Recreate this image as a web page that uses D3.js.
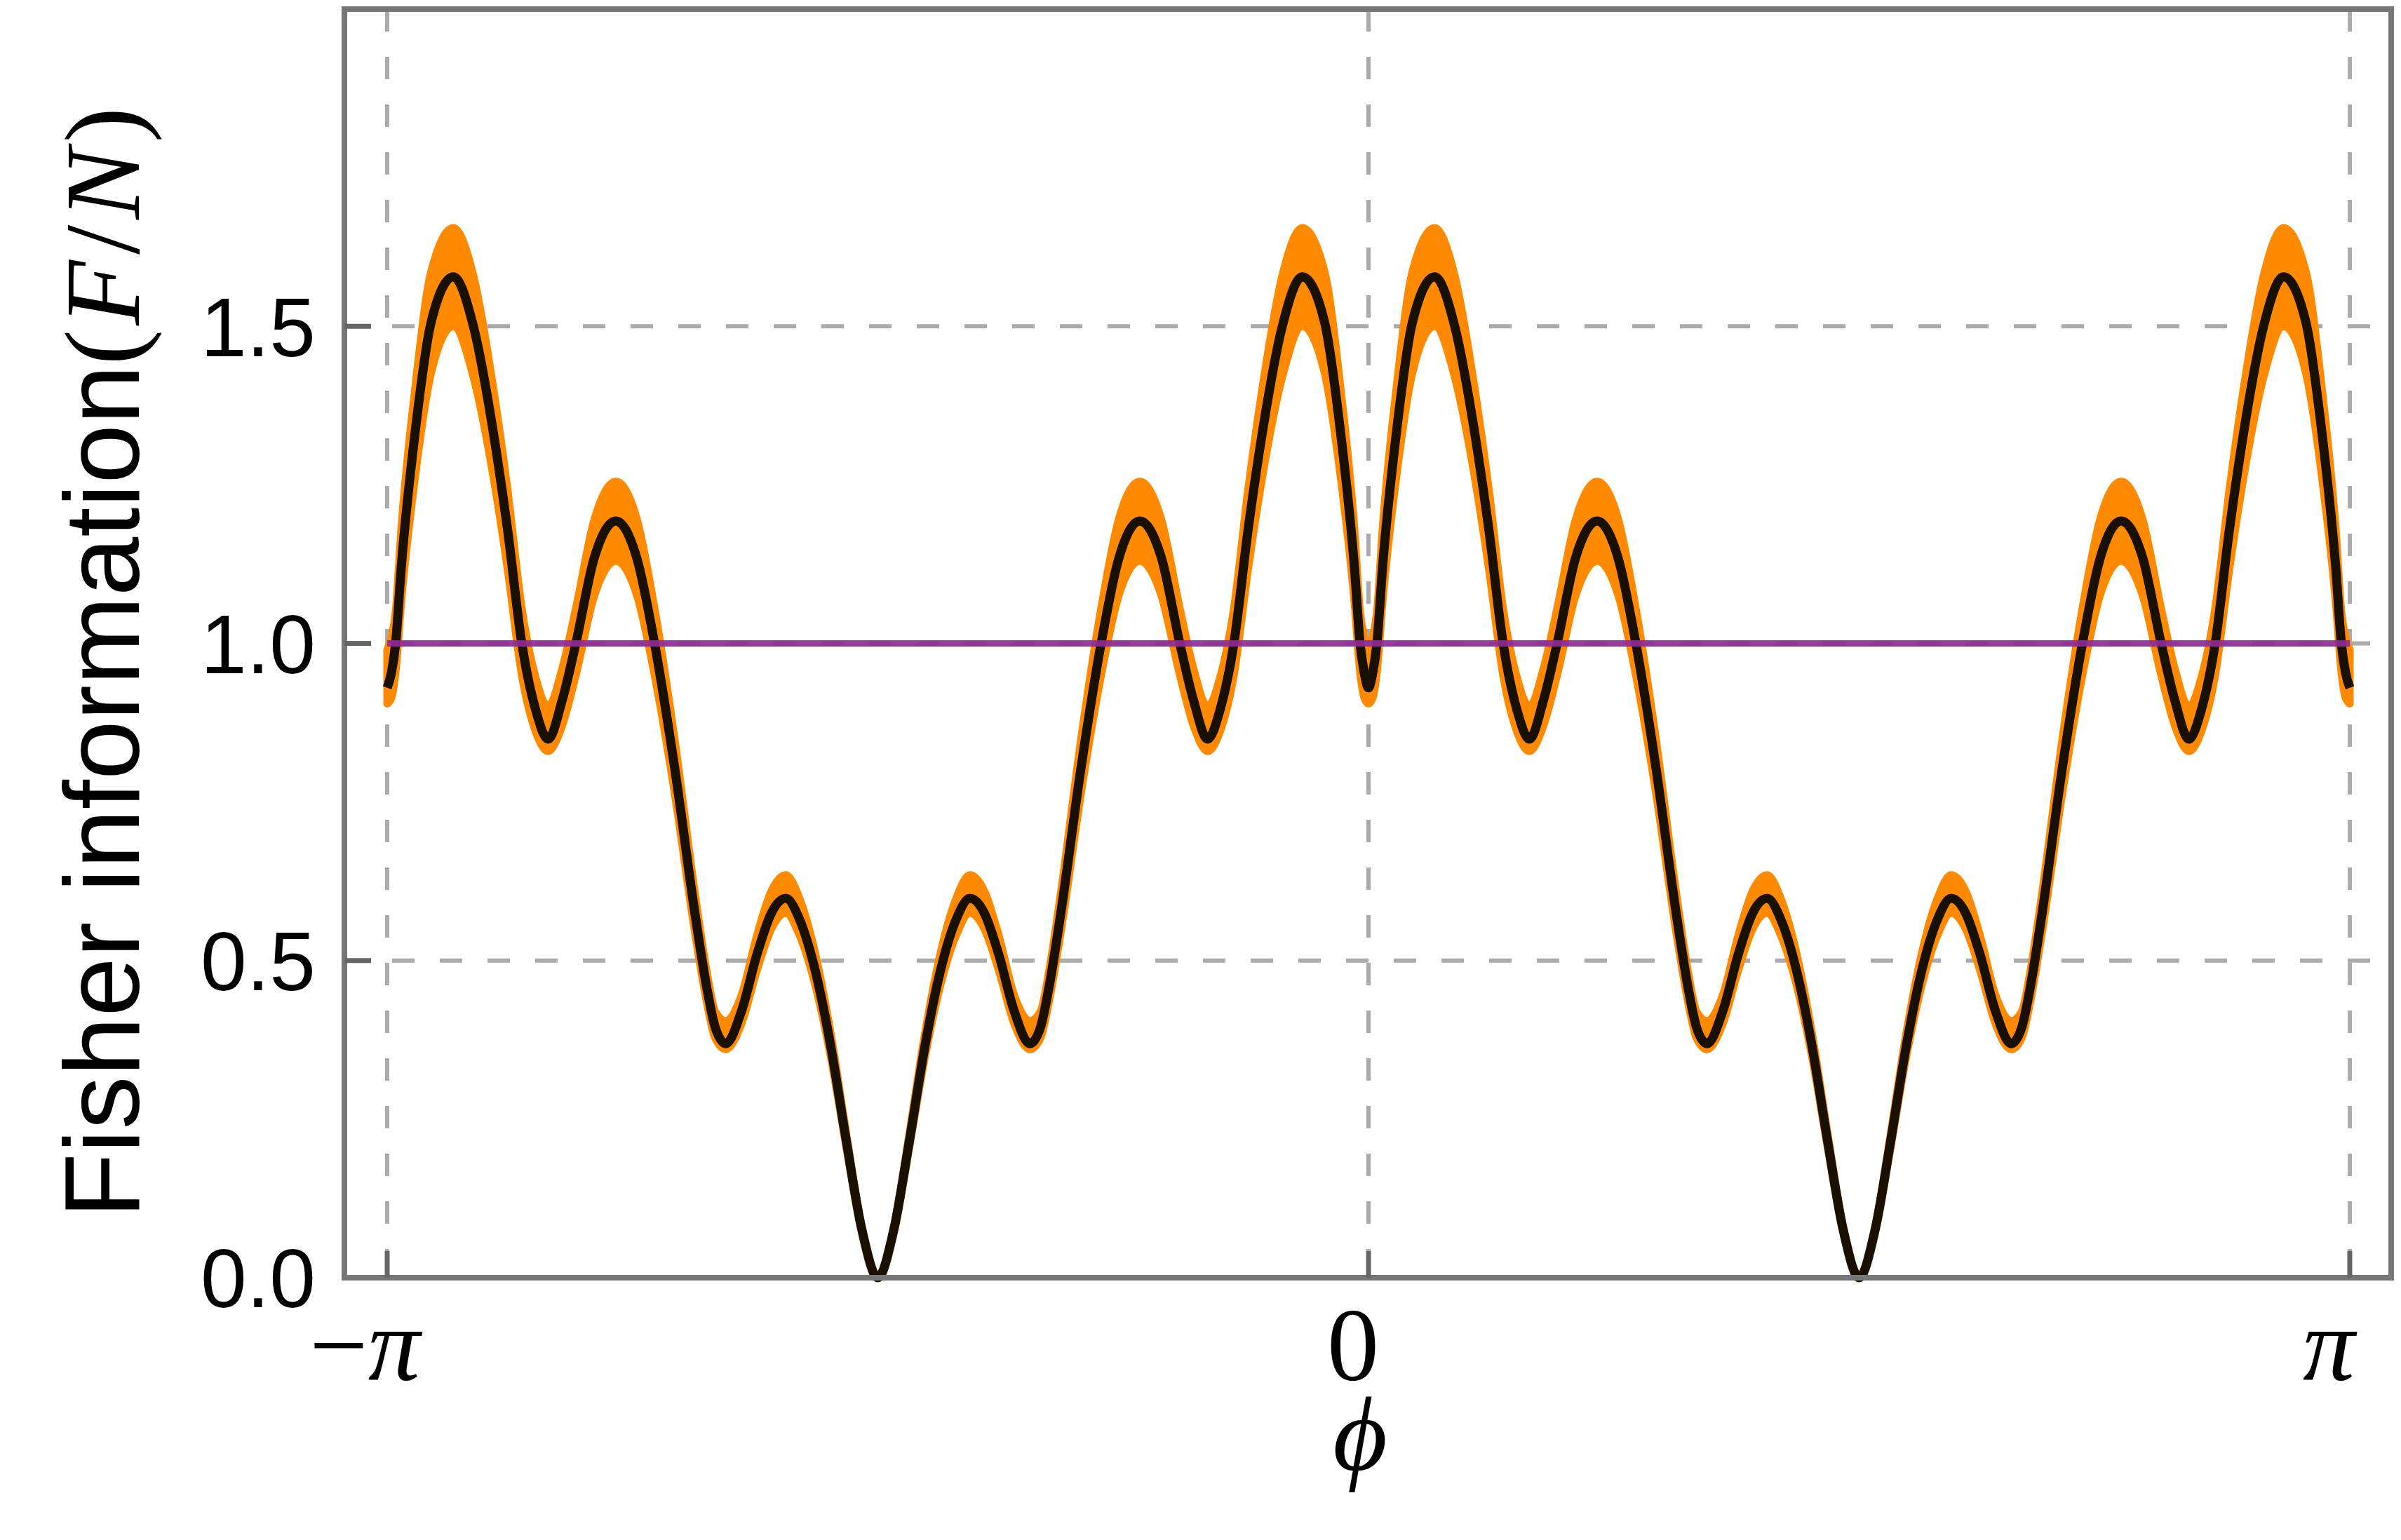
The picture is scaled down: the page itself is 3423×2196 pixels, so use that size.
<!DOCTYPE html>
<html>
<head>
<meta charset="utf-8">
<script src="https://cdn.jsdelivr.net/npm/d3@7"></script>
<style>
  html, body { margin: 0; padding: 0; background: #ffffff; }
  svg { display: block; }
</style>
</head>
<body>
<svg id="chart" width="3423" height="2196"></svg>
<script>
// ---------------- data ----------------
const phi = [
  -3.1416, -3.1276, -3.1146, -3.0966, -3.0516, -3.0016, -2.9296, -2.8656, -2.8026, -2.7556, -2.7106, -2.6656, -2.6266, -2.5816, -2.5376, -2.4786, -2.4096, -2.3416, -2.2856, -2.2216, -2.1566, -2.1176, -2.0916, -2.0576, -2.0076, -1.9576, -1.9116, -1.8656, -1.8216, -1.7716, -1.7216, -1.6716, -1.6216, -1.5708,
  -1.5200, -1.4700, -1.4200, -1.3700, -1.3200, -1.2760, -1.2300, -1.1840, -1.1340, -1.0840, -1.0500, -1.0240, -0.9850, -0.9200, -0.8560, -0.8000, -0.7320, -0.6630, -0.6040, -0.5600, -0.5150, -0.4760, -0.4310, -0.3860, -0.3390, -0.2760, -0.2120, -0.1400, -0.0900, -0.0450, -0.0270, -0.0140, 0.0000,
  0.0140, 0.0270, 0.0450, 0.0900, 0.1400, 0.2120, 0.2760, 0.3390, 0.3860, 0.4310, 0.4760, 0.5150, 0.5600, 0.6040, 0.6630, 0.7320, 0.8000, 0.8560, 0.9200, 0.9850, 1.0240, 1.0500, 1.0840, 1.1340, 1.1840, 1.2300, 1.2760, 1.3200, 1.3700, 1.4200, 1.4700, 1.5200, 1.5708,
  1.6216, 1.6716, 1.7216, 1.7716, 1.8216, 1.8656, 1.9116, 1.9576, 2.0076, 2.0576, 2.0916, 2.1176, 2.1566, 2.2216, 2.2856, 2.3416, 2.4096, 2.4786, 2.5376, 2.5816, 2.6266, 2.6656, 2.7106, 2.7556, 2.8026, 2.8656, 2.9296, 3.0016, 3.0516, 3.0966, 3.1146, 3.1276, 3.1416
];

// theory curve (black)
const fisherInfo = [
  0.930, 0.955, 1.000, 1.120, 1.335, 1.505, 1.578, 1.500, 1.335, 1.177, 1.000, 0.894, 0.849, 0.910, 1.000, 1.135, 1.193, 1.133, 1.000, 0.805, 0.575, 0.455, 0.395, 0.369, 0.420, 0.510, 0.575, 0.598, 0.565, 0.485, 0.365, 0.215, 0.075, 0.000,
  0.075, 0.215, 0.365, 0.485, 0.565, 0.598, 0.575, 0.510, 0.420, 0.369, 0.395, 0.455, 0.575, 0.805, 1.000, 1.133, 1.193, 1.135, 1.000, 0.910, 0.849, 0.894, 1.000, 1.177, 1.335, 1.500, 1.578, 1.505, 1.335, 1.120, 1.000, 0.955, 0.930,
  0.955, 1.000, 1.120, 1.335, 1.505, 1.578, 1.500, 1.335, 1.177, 1.000, 0.894, 0.849, 0.910, 1.000, 1.135, 1.193, 1.133, 1.000, 0.805, 0.575, 0.455, 0.395, 0.369, 0.420, 0.510, 0.575, 0.598, 0.565, 0.485, 0.365, 0.215, 0.075, 0.000,
  0.075, 0.215, 0.365, 0.485, 0.565, 0.598, 0.575, 0.510, 0.420, 0.369, 0.395, 0.455, 0.575, 0.805, 1.000, 1.133, 1.193, 1.135, 1.000, 0.910, 0.849, 0.894, 1.000, 1.177, 1.335, 1.500, 1.578, 1.505, 1.335, 1.120, 1.000, 0.955, 0.930
];

// orange (simulated) spread: upper and lower edge
const bandUpper = [
  0.990, 1.010, 1.050, 1.180, 1.405, 1.585, 1.655, 1.580, 1.405, 1.240, 1.055, 0.945, 0.900, 0.960, 1.055, 1.195, 1.255, 1.195, 1.055, 0.850, 0.607, 0.480, 0.420, 0.405, 0.445, 0.540, 0.610, 0.635, 0.598, 0.512, 0.385, 0.227, 0.079, 0.000,
  0.079, 0.227, 0.385, 0.512, 0.598, 0.635, 0.610, 0.540, 0.445, 0.405, 0.420, 0.480, 0.607, 0.850, 1.055, 1.195, 1.255, 1.195, 1.055, 0.960, 0.900, 0.945, 1.055, 1.240, 1.405, 1.580, 1.655, 1.585, 1.405, 1.180, 1.050, 1.010, 0.990,
  1.010, 1.050, 1.180, 1.405, 1.585, 1.655, 1.580, 1.405, 1.240, 1.055, 0.945, 0.900, 0.960, 1.055, 1.195, 1.255, 1.195, 1.055, 0.850, 0.607, 0.480, 0.420, 0.405, 0.445, 0.540, 0.610, 0.635, 0.598, 0.512, 0.385, 0.227, 0.079, 0.000,
  0.079, 0.227, 0.385, 0.512, 0.598, 0.635, 0.610, 0.540, 0.445, 0.405, 0.420, 0.480, 0.607, 0.850, 1.055, 1.195, 1.255, 1.195, 1.055, 0.960, 0.900, 0.945, 1.055, 1.240, 1.405, 1.580, 1.655, 1.585, 1.405, 1.180, 1.050, 1.010, 0.990
];
const bandLower = [
  0.905, 0.915, 0.955, 1.065, 1.265, 1.425, 1.500, 1.420, 1.265, 1.115, 0.950, 0.860, 0.830, 0.870, 0.950, 1.075, 1.130, 1.075, 0.950, 0.765, 0.545, 0.432, 0.378, 0.360, 0.400, 0.485, 0.550, 0.575, 0.540, 0.462, 0.348, 0.205, 0.071, 0.000,
  0.071, 0.205, 0.348, 0.462, 0.540, 0.575, 0.550, 0.485, 0.400, 0.360, 0.378, 0.432, 0.545, 0.765, 0.950, 1.075, 1.130, 1.075, 0.950, 0.870, 0.830, 0.860, 0.950, 1.115, 1.265, 1.420, 1.500, 1.425, 1.265, 1.065, 0.955, 0.915, 0.905,
  0.915, 0.955, 1.065, 1.265, 1.425, 1.500, 1.420, 1.265, 1.115, 0.950, 0.860, 0.830, 0.870, 0.950, 1.075, 1.130, 1.075, 0.950, 0.765, 0.545, 0.432, 0.378, 0.360, 0.400, 0.485, 0.550, 0.575, 0.540, 0.462, 0.348, 0.205, 0.071, 0.000,
  0.071, 0.205, 0.348, 0.462, 0.540, 0.575, 0.550, 0.485, 0.400, 0.360, 0.378, 0.432, 0.545, 0.765, 0.950, 1.075, 1.130, 1.075, 0.950, 0.870, 0.830, 0.860, 0.950, 1.115, 1.265, 1.420, 1.500, 1.425, 1.265, 1.065, 0.955, 0.915, 0.905
];

// reference level (purple)
const referencePhi = [-Math.PI, Math.PI];
const referenceLevel = [1.0, 1.0];

const yTicks = [0, 0.5, 1.0, 1.5];
const yTickLabels = ["0.0", "0.5", "1.0", "1.5"];
const xTicks = [-Math.PI, 0, Math.PI];
const xTickLabels = ["\u2212\u03C0", "0", "\u03C0"];
const xDomain = [-3.2786, 3.2741];
const yDomain = [0, 2.0];

// ---------------- drawing ----------------
const svg = d3.select("#chart");
const frame = { left: 491, right: 3409, top: 13, bottom: 1822 };

const x = d3.scaleLinear().domain(xDomain).range([frame.left, frame.right]);
const y = d3.scaleLinear().domain(yDomain).range([frame.bottom, frame.top]);

const pts = phi.map((p, i) => ({ p, f: fisherInfo[i], hi: bandUpper[i], lo: bandLower[i] }));

// grid lines
const grid = svg.append("g").attr("stroke", "#ababab").attr("stroke-width", 6)
  .attr("stroke-dasharray", "32,36").attr("fill", "none");
grid.selectAll("line.h").data(yTicks.filter(v => v > 0)).join("line")
  .attr("class", "h")
  .attr("x1", frame.left).attr("x2", frame.right)
  .attr("y1", d => y(d)).attr("y2", d => y(d));
grid.selectAll("line.v").data(xTicks).join("line")
  .attr("class", "v")
  .attr("x1", d => x(d)).attr("x2", d => x(d))
  .attr("y1", frame.top).attr("y2", frame.bottom);

// orange band
const area = d3.area().curve(d3.curveMonotoneX)
  .x(d => x(d.p)).y0(d => y(d.lo)).y1(d => y(d.hi));
svg.append("path").datum(pts)
  .attr("d", area)
  .attr("fill", "#ff8a00")
  .attr("stroke", "#ff8a00")
  .attr("stroke-width", 11)
  .attr("stroke-linejoin", "round");

// black theory line
const line = d3.line().curve(d3.curveMonotoneX).x(d => x(d.p)).y(d => y(d.f));
svg.append("path").datum(pts)
  .attr("d", line)
  .attr("fill", "none")
  .attr("stroke", "#1a1000")
  .attr("stroke-width", 13)
  .attr("stroke-linejoin", "round");

// purple reference line
const refLine = d3.line().x(d => x(d[0])).y(d => y(d[1]));
svg.append("path").datum(referencePhi.map((p, i) => [p, referenceLevel[i]]))
  .attr("d", refLine)
  .attr("fill", "none")
  .attr("stroke", "#8e2a96")
  .attr("stroke-width", 9)
  .attr("stroke-opacity", 0.92);

// frame
svg.append("rect")
  .attr("x", frame.left).attr("y", frame.top)
  .attr("width", frame.right - frame.left).attr("height", frame.bottom - frame.top)
  .attr("fill", "none").attr("stroke", "#777777").attr("stroke-width", 8);

// ticks (inward)
const ticks = svg.append("g").attr("stroke", "#666666").attr("stroke-width", 7);
ticks.selectAll("line.yt").data(yTicks.filter(v => v > 0)).join("line")
  .attr("x1", frame.left).attr("x2", frame.left + 38)
  .attr("y1", d => y(d)).attr("y2", d => y(d));
ticks.selectAll("line.xt").data(xTicks).join("line")
  .attr("x1", d => x(d)).attr("x2", d => x(d))
  .attr("y1", frame.bottom).attr("y2", frame.bottom - 38);

// y tick labels
svg.append("g").selectAll("text").data(yTicks).join("text")
  .attr("x", 450)
  .attr("y", d => y(d))
  .attr("dy", "0.36em")
  .attr("text-anchor", "end")
  .attr("font-family", "'Liberation Sans', Arial, sans-serif")
  .attr("font-size", 118)
  .attr("fill", "#000")
  .text((d, i) => yTickLabels[i]);

// x tick labels
const xLabelShift = [-32, -22, -30];
svg.append("g").selectAll("text").data(xTicks).join("text")
  .attr("x", (d, i) => x(d) + xLabelShift[i])
  .attr("y", 1968)
  .attr("text-anchor", "middle")
  .attr("font-family", "'Liberation Serif', 'Times New Roman', serif")
  .attr("font-size", 148)
  .attr("fill", "#000")
  .each(function (d, i) {
    const t = d3.select(this);
    const lab = xTickLabels[i];
    if (lab.indexOf("\u03C0") >= 0) {
      if (lab.length > 1) t.append("tspan").text(lab.slice(0, lab.length - 1));
      t.append("tspan").attr("font-style", "italic").text("\u03C0");
    } else {
      t.text(lab);
    }
  });

// x axis title
svg.append("text")
  .attr("x", x(0) - 12)
  .attr("y", 2096)
  .attr("text-anchor", "middle")
  .attr("font-family", "'Liberation Serif', 'Times New Roman', serif")
  .attr("font-style", "italic")
  .attr("font-size", 150)
  .attr("fill", "#000")
  .text("\u03D5");

// y axis title
const yt = svg.append("text")
  .attr("transform", "translate(198,1737) rotate(-90)")
  .attr("text-anchor", "start")
  .attr("font-size", 152)
  .attr("fill", "#000");
yt.append("tspan").attr("font-family", "'Liberation Sans', Arial, sans-serif").text("Fisher information");
const serif = "'Liberation Serif', 'Times New Roman', serif";
yt.append("tspan").attr("font-family", serif).text("(");
yt.append("tspan").attr("font-family", serif).attr("font-style", "italic").attr("dx", 6).text("F");
yt.append("tspan").attr("font-family", serif).attr("dx", 8).text("/");
yt.append("tspan").attr("font-family", serif).attr("font-style", "italic").attr("dx", 8).text("N");
yt.append("tspan").attr("font-family", serif).attr("dx", 8).text(")");
</script>
</body>
</html>
